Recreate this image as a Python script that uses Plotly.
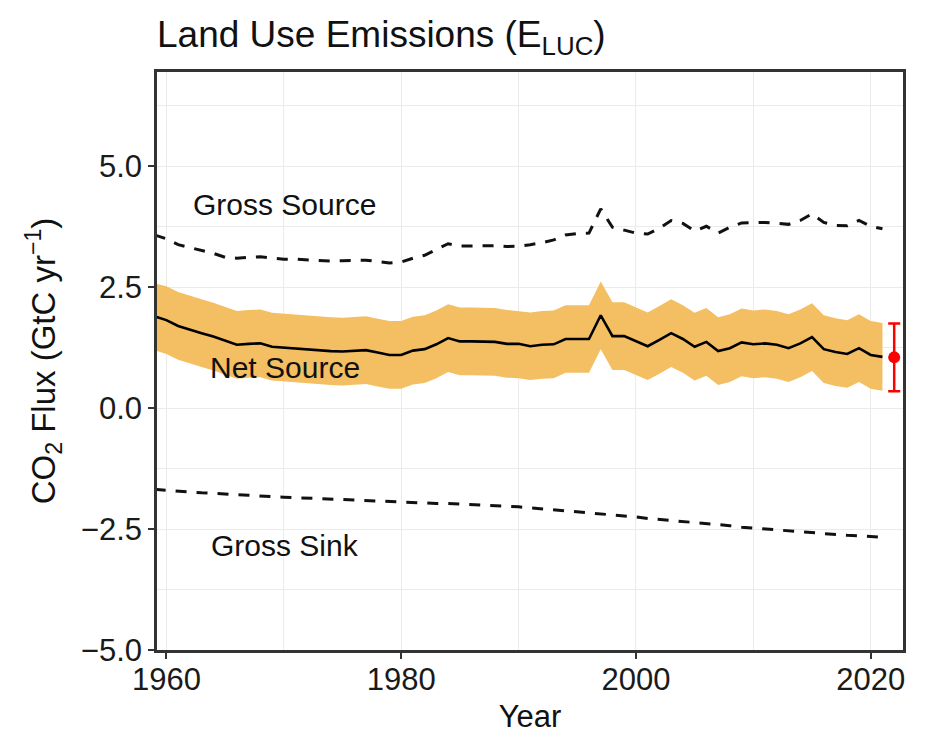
import plotly.graph_objects as go

years = list(range(1959, 2022))

net_source = [1.90, 1.82, 1.70, 1.62, 1.55, 1.48, 1.40, 1.31, 1.33, 1.34,
              1.27, 1.25, 1.24, 1.22, 1.19, 1.18, 1.17, 1.19, 1.20, 1.15,
              1.10, 1.10, 1.19, 1.22, 1.32, 1.45, 1.38, 1.38, 1.37, 1.37,
              1.33, 1.33, 1.28, 1.31, 1.32, 1.43, 1.43, 1.43, 1.92, 1.49,
              1.49, 1.39, 1.28, 1.41, 1.55, 1.43, 1.27, 1.37, 1.18, 1.24,
              1.36, 1.32, 1.34, 1.31, 1.24, 1.34, 1.47, 1.22, 1.16, 1.12,
              1.24, 1.10, 1.06]

net_upper = [2.58, 2.52, 2.40, 2.32, 2.25, 2.18, 2.10, 2.01, 2.03, 2.04,
             1.97, 1.95, 1.94, 1.92, 1.89, 1.88, 1.87, 1.89, 1.90, 1.85,
             1.80, 1.80, 1.89, 1.92, 2.02, 2.15, 2.08, 2.08, 2.07, 2.07,
             2.03, 2.01, 1.98, 2.01, 2.02, 2.13, 2.13, 2.13, 2.62, 2.19,
             2.19, 2.09, 1.98, 2.11, 2.25, 2.13, 1.97, 2.07, 1.88, 1.94,
             2.06, 2.02, 2.04, 2.01, 1.94, 2.04, 2.17, 1.92, 1.86, 1.82,
             1.94, 1.80, 1.76]

net_lower = [1.20, 1.12, 1.00, 0.92, 0.85, 0.78, 0.70, 0.61, 0.63, 0.64,
             0.57, 0.55, 0.54, 0.52, 0.49, 0.48, 0.47, 0.49, 0.50, 0.45,
             0.40, 0.40, 0.49, 0.52, 0.62, 0.75, 0.68, 0.68, 0.67, 0.67,
             0.63, 0.62, 0.58, 0.61, 0.62, 0.73, 0.73, 0.73, 1.22, 0.79,
             0.79, 0.69, 0.58, 0.71, 0.85, 0.73, 0.57, 0.67, 0.48, 0.54,
             0.66, 0.62, 0.64, 0.61, 0.54, 0.64, 0.77, 0.52, 0.46, 0.42,
             0.54, 0.40, 0.36]

gross_source = [3.58, 3.50, 3.38, 3.32, 3.25, 3.20, 3.12, 3.10, 3.12, 3.13,
                3.10, 3.08, 3.08, 3.07, 3.05, 3.04, 3.05, 3.06, 3.06, 3.03,
                3.00, 3.02, 3.10, 3.16, 3.28, 3.40, 3.35, 3.35, 3.36, 3.36,
                3.34, 3.35, 3.38, 3.42, 3.48, 3.58, 3.61, 3.62, 4.12, 3.74,
                3.68, 3.62, 3.60, 3.72, 3.88, 3.82, 3.66, 3.76, 3.62, 3.74,
                3.83, 3.83, 3.84, 3.82, 3.80, 3.88, 4.02, 3.84, 3.78, 3.77,
                3.88, 3.76, 3.71]

gross_sink = [-1.68, -1.70, -1.72, -1.73, -1.75, -1.76, -1.78, -1.79, -1.80, -1.82,
              -1.83, -1.84, -1.85, -1.86, -1.88, -1.89, -1.90, -1.91, -1.92, -1.93,
              -1.94, -1.95, -1.96, -1.96, -1.97, -1.97, -1.98, -1.99, -2.00, -2.01,
              -2.02, -2.04, -2.06, -2.08, -2.10, -2.12, -2.14, -2.16, -2.18, -2.21,
              -2.23, -2.25, -2.28, -2.30, -2.32, -2.35, -2.37, -2.39, -2.41, -2.43,
              -2.46, -2.48, -2.50, -2.52, -2.54, -2.56, -2.58, -2.60, -2.61, -2.63,
              -2.64, -2.65, -2.67]

proj_year = [2022]
proj_value = [1.05]
proj_err = [0.7]

labels = ["Gross Source", "Net Source", "Gross Sink"]
label_x = [1970.1, 1970.1, 1970.1]
label_y = [4.21, 0.85, -2.83]

x_ticks = [1960, 1980, 2000, 2020]
y_ticks = [-5.0, -2.5, 0.0, 2.5, 5.0]
y_ticktext = ["\u22125.0", "\u22122.5", "0.0", "2.5", "5.0"]

FONT = "Liberation Sans, Arial, Helvetica, sans-serif"
BAND = "#F3BF62"
TXT = "#111111"

# the page body has an 8px margin; size the figure so the plot lands where the reference has it
W, H = 918, 726

fig = go.Figure()
fig.add_trace(go.Scatter(x=years, y=net_lower, mode="lines",
                         line=dict(width=0, color=BAND), showlegend=False, hoverinfo="skip"))
fig.add_trace(go.Scatter(x=years, y=net_upper, mode="lines", fill="tonexty",
                         fillcolor=BAND, line=dict(width=0, color=BAND), showlegend=False,
                         hoverinfo="skip"))
fig.add_trace(go.Scatter(x=years, y=net_source, mode="lines",
                         line=dict(color="black", width=2.6), showlegend=False))
fig.add_trace(go.Scatter(x=years, y=gross_source, mode="lines",
                         line=dict(color="#111", width=3, dash="11px,10px"), showlegend=False))
fig.add_trace(go.Scatter(x=years, y=gross_sink, mode="lines",
                         line=dict(color="#111", width=3, dash="11px,10px"), showlegend=False))
fig.add_trace(go.Scatter(x=proj_year, y=proj_value, mode="markers",
                         marker=dict(color="red", size=12),
                         error_y=dict(type="data", array=proj_err, visible=True,
                                      color="red", thickness=2.5, width=6),
                         showlegend=False))

for t, x, y in zip(labels, label_x, label_y):
    fig.add_annotation(x=x, y=y, text=t, showarrow=False,
                       font=dict(family=FONT, size=30, color=TXT),
                       xanchor="center", yanchor="middle")

axis_common = dict(showline=True, mirror=True, linecolor="#333", linewidth=2.5,
                   ticks="outside", ticklen=6, tickcolor="#333", tickwidth=1.5,
                   showgrid=True, gridcolor="#EBEBEB", gridwidth=1.3, zeroline=False,
                   automargin=False,
                   tickfont=dict(family=FONT, size=31, color="#1a1a1a"))

fig.update_xaxes(range=[1959.2, 2022.75], tickvals=x_ticks,
                 minor=dict(dtick=10, tick0=1960, showgrid=True, gridcolor="#EBEBEB",
                            gridwidth=1.3, ticks=""),
                 title=dict(text="Year", font=dict(family=FONT, size=31, color=TXT),
                            standoff=10),
                 ticklabelstandoff=-6,
                 **axis_common)
fig.update_yaxes(range=[-5, 6.95], tickvals=y_ticks, ticktext=y_ticktext,
                 minor=dict(dtick=1.25, tick0=-5, showgrid=True, gridcolor="#EBEBEB",
                            gridwidth=1.3, ticks=""),
                 title=dict(text="CO<sub>2</sub> Flux (GtC yr<sup>\u22121</sup>)",
                            font=dict(family=FONT, size=33, color=TXT), standoff=16),
                 **axis_common)

fig.update_layout(
    width=W, height=H,
    margin=dict(l=149, r=23, t=64, b=84),
    paper_bgcolor="white", plot_bgcolor="white",
    title=dict(text="Land Use Emissions (E<sub>LUC</sub>)", xref="container", yref="container",
               x=149 / W, y=1 - 26 / H, xanchor="left", yanchor="middle",
               font=dict(family=FONT, size=37, color=TXT)),
    showlegend=False,
)

fig.write_html("out.html")
